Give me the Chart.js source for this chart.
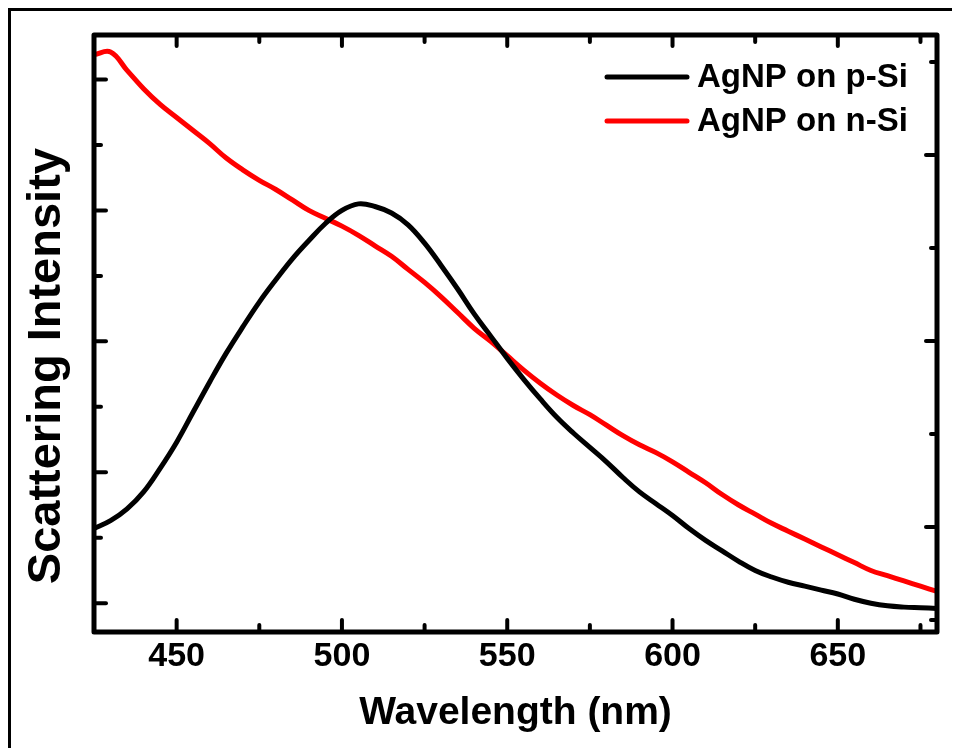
<!DOCTYPE html>
<html>
<head>
<meta charset="utf-8">
<script src="https://cdn.jsdelivr.net/npm/chart.js@4.4.1/dist/chart.umd.min.js"></script>
<style>
  html, body { margin: 0; padding: 0; background: #fff; }
  #wrap { position: relative; width: 956px; height: 748px; overflow: hidden; }
  /* 外框：只有上边和左边 */
  #frame { position: absolute; left: 8px; top: 8px; width: 944px; height: 760px;
           border-top: 3px solid #000; border-left: 3px solid #000; box-sizing: border-box; }
  canvas { position: absolute; left: 0; top: 0; }
</style>
</head>
<body>
<div id="wrap">
  <div id="frame"></div>
  <canvas id="chart" width="956" height="748"></canvas>
</div>
<script>
// 波长 (nm)
const wavelengths = [425, 430, 435, 440, 445, 450, 455, 460, 465, 470, 475, 480, 485, 490, 495,
  500, 505, 510, 515, 520, 525, 530, 535, 540, 545, 550, 555, 560, 565, 570, 575, 580, 585, 590,
  595, 600, 605, 610, 615, 620, 625, 630, 635, 640, 645, 650, 655, 660, 665, 670, 675, 680]

// AgNP on p-Si 散射强度 (a.u.)
const pSi = [0.57, 0.63, 0.72, 0.85, 1.03, 1.23, 1.46, 1.69, 1.91, 2.11, 2.30, 2.47, 2.63, 2.77, 2.90,
  3.00, 3.05, 3.03, 2.98, 2.89, 2.75, 2.58, 2.40, 2.21, 2.04, 1.87, 1.71, 1.56, 1.42, 1.30, 1.19, 1.08,
  0.96, 0.85, 0.76, 0.67, 0.57, 0.48, 0.40, 0.32, 0.25, 0.20, 0.16, 0.13, 0.10, 0.07, 0.03, 0.00,
  -0.02, -0.03, -0.035, -0.04]

// AgNP on n-Si 散射强度 (a.u.)
const nSi = [4.19, 4.21, 4.07, 3.93, 3.81, 3.71, 3.61, 3.51, 3.40, 3.31, 3.23, 3.16, 3.08, 3.00, 2.94,
  2.88, 2.81, 2.73, 2.65, 2.55, 2.45, 2.34, 2.22, 2.10, 2.00, 1.89, 1.78, 1.68, 1.59, 1.51, 1.44, 1.36,
  1.28, 1.21, 1.15, 1.08, 1.00, 0.92, 0.83, 0.75, 0.68, 0.61, 0.55, 0.49, 0.43, 0.37, 0.31, 0.25,
  0.21, 0.17, 0.13, 0.09]

// 刻度位置
const xMajorTicks = [450, 500, 550, 600, 650]
const xMinorTicks = [475, 525, 575, 625, 675]
const yLeftMajorTicks = [0, 1, 2, 3, 4]
const yLeftMinorTicks = [0.5, 1.5, 2.5, 3.5]
const yRightMajorTicks = [0, 1, 2]
const yRightMinorTicks = [-0.5, 0.5, 1.5, 2.5]

const FONT = "'Liberation Sans', Arial, Helvetica, sans-serif"
Chart.defaults.font.family = FONT

// 向内的刻度线 + 坐标框
const innerTicks = {
  id: 'innerTicks',
  afterDatasetsDraw(chart) {
    const { ctx, chartArea: a, scales } = chart
    const seg = (x1, y1, x2, y2) => {
      ctx.beginPath()
      ctx.moveTo(x1, y1)
      ctx.lineTo(x2, y2)
      ctx.stroke()
    }
    ctx.save()
    ctx.strokeStyle = '#000'
    ctx.lineCap = 'round'
    ctx.lineWidth = 4
    xMajorTicks.forEach(v => {
      const px = scales.x.getPixelForValue(v)
      seg(px, a.bottom, px, a.bottom - 12)
      seg(px, a.top, px, a.top + 11)
    })
    xMinorTicks.forEach(v => {
      const px = scales.x.getPixelForValue(v)
      seg(px, a.bottom, px, a.bottom - 7)
      seg(px, a.top, px, a.top + 7)
    })
    yLeftMajorTicks.forEach(v => {
      const py = scales.y.getPixelForValue(v)
      seg(a.left, py, a.left + 12, py)
    })
    yLeftMinorTicks.forEach(v => {
      const py = scales.y.getPixelForValue(v)
      seg(a.left, py, a.left + 7, py)
    })
    yRightMajorTicks.forEach(v => {
      const py = scales.y2.getPixelForValue(v)
      seg(a.right, py, a.right - 11, py)
    })
    yRightMinorTicks.forEach(v => {
      const py = scales.y2.getPixelForValue(v)
      seg(a.right, py, a.right - 6, py)
    })
    ctx.lineWidth = 5
    ctx.lineJoin = 'round'
    ctx.strokeRect(a.left, a.top, a.right - a.left, a.bottom - a.top)
    ctx.restore()
  }
}

// 图例，画在右上角
const cornerLegend = {
  id: 'cornerLegend',
  afterDraw(chart) {
    const { ctx, chartArea: a } = chart
    ctx.save()
    ctx.font = 'bold 33px ' + FONT
    ctx.textBaseline = 'middle'
    ctx.textAlign = 'left'
    chart.data.datasets.forEach((ds, i) => {
      const y = a.top + 42 + i * 44
      ctx.strokeStyle = ds.borderColor
      ctx.lineWidth = 5
      ctx.lineCap = 'round'
      ctx.beginPath()
      ctx.moveTo(a.right - 330, y)
      ctx.lineTo(a.right - 250, y)
      ctx.stroke()
      ctx.fillStyle = '#000'
      ctx.fillText(ds.label, a.right - 240, y + 1)
    })
    ctx.restore()
  }
}

new Chart(document.getElementById('chart'), {
  type: 'line',
  data: {
    datasets: [
      {
        label: 'AgNP on p-Si',
        data: wavelengths.map((w, i) => ({ x: w, y: pSi[i] })),
        borderColor: '#000000',
        borderWidth: 5,
        pointRadius: 0,
        tension: 0.4
      },
      {
        label: 'AgNP on n-Si',
        data: wavelengths.map((w, i) => ({ x: w, y: nSi[i] })),
        borderColor: '#ff0000',
        borderWidth: 5,
        pointRadius: 0,
        tension: 0.4
      }
    ]
  },
  options: {
    responsive: false,
    animation: false,
    layout: { padding: { top: 35, right: 19, left: 0, bottom: 0 } },
    plugins: {
      legend: { display: false },
      tooltip: { enabled: false }
    },
    scales: {
      x: {
        type: 'linear',
        min: 425,
        max: 680,
        grid: { display: false, drawTicks: false },
        border: { display: false },
        ticks: {
          stepSize: 50,
          includeBounds: false,
          color: '#000',
          padding: 4,
          font: { size: 34, weight: 'bold' }
        },
        title: {
          display: true,
          text: 'Wavelength (nm)',
          color: '#000',
          font: { size: 39, weight: 'bold' },
          padding: { top: 0, bottom: 11 }
        },
        afterFit(scale) { scale.height = 116 }
      },
      y: {
        min: -0.22,
        max: 4.34,
        grid: { display: false, drawTicks: false },
        border: { display: false },
        ticks: { display: false },
        title: {
          display: true,
          text: 'Scattering Intensity     ',
          color: '#000',
          font: { size: 47, weight: 'bold' },
          padding: { top: 19, bottom: 0 }
        },
        afterFit(scale) { scale.width = 94 }
      },
      y2: {
        position: 'right',
        display: false,
        min: -0.565,
        max: 2.645
      }
    }
  },
  plugins: [innerTicks, cornerLegend]
})
</script>
</body>
</html>
